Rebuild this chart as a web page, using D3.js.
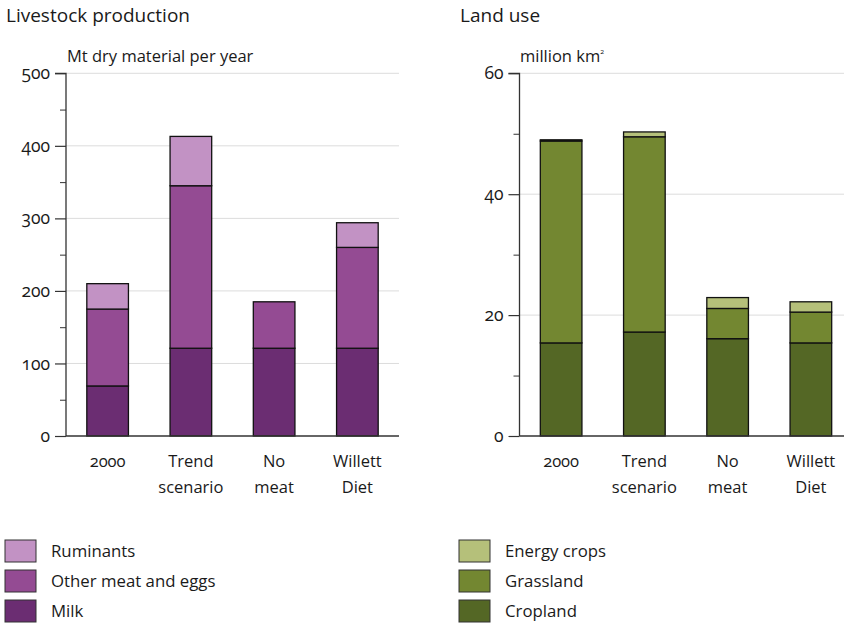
<!DOCTYPE html>
<html>
<head>
<meta charset="utf-8">
<script src="https://cdn.jsdelivr.net/npm/d3@7"></script>
<style>
  body { margin: 0; background: #fff; }
  svg { display: block; }
  text { font-family: "Open Sans", Lato, sans-serif; fill: #1a1a1a; font-variant-numeric: oldstyle-nums; font-feature-settings: "onum" 1; }
</style>
</head>
<body>
<svg id="chart" width="844" height="623"></svg>
<script>
// ---- Data ----
const categories = [["2000"], ["Trend", "scenario"], ["No", "meat"], ["Willett", "Diet"]];
const catKeys = ["2000", "Trend scenario", "No meat", "Willett Diet"];

// Livestock production (Mt dry material per year)
const livestockSeries = ["Milk", "Other meat and eggs", "Ruminants"];
const milk = [69, 121, 121, 121];
const otherMeat = [106, 224, 64, 139];
const ruminants = [35, 68, 0, 34];
const livestockColors = ["#6b2d72", "#944b93", "#c292c4"];
const livestockTicks = [0, 100, 200, 300, 400, 500];

// Land use (million km2)
const landSeries = ["Cropland", "Grassland", "Energy crops"];
const cropland = [15.4, 17.2, 16.1, 15.4];
const grassland = [33.4, 32.3, 5.0, 5.1];
const energyCrops = [0.2, 0.8, 1.8, 1.7];
const landColors = ["#546725", "#738731", "#b5c07a"];
const landTicks = [0, 20, 40, 60];

const svg = d3.select("#chart");

function panel(opts) {
  const g = svg.append("g");
  const x = d3.scaleBand().domain(catKeys).range([opts.x0, opts.x0 + 333]).padding(0.5).paddingOuter(0.25);
  const y = d3.scaleLinear().domain([0, opts.max]).range([436, 73.3]);

  // title
  g.append("text").attr("x", opts.titleX).attr("y", 22)
    .style("font-size", "19px").text(opts.title);
  // unit label
  const ut = g.append("text").attr("x", opts.unitX).attr("y", 62)
    .style("font-size", "16.5px");
  ut.text(opts.unit);
  if (opts.sup) ut.append("tspan").attr("dy", -8).style("font-size", "7px").text(opts.sup);

  // gridlines
  g.append("g").selectAll("line").data(opts.ticks.filter(d => d > 0)).join("line")
    .attr("x1", opts.x0).attr("x2", Math.min(opts.x0 + 333, 844))
    .attr("y1", d => y(d)).attr("y2", d => y(d))
    .attr("stroke", "#dcdcdc").attr("stroke-width", 1);

  // minor ticks
  const minor = d3.axisLeft(y).tickValues(opts.minor).tickSize(6).tickFormat("");
  const mg = g.append("g").attr("transform", `translate(${opts.x0},0)`).call(minor);
  mg.select(".domain").remove();
  mg.selectAll("line").attr("stroke", "#333");

  // major axis
  const ax = d3.axisLeft(y).tickValues(opts.ticks).tickSize(11).tickPadding(5).tickFormat(d3.format("d"));
  const ag = g.append("g").attr("transform", `translate(${opts.x0},0)`).call(ax);
  ag.select(".domain").attr("stroke", "#333").attr("stroke-width", 1.3).attr("d", `M-11,${y(opts.max)}H0V${y(0)}`);
  ag.selectAll("line").attr("stroke", "#333").attr("stroke-width", 1.2);
  ag.selectAll("text").style("font-size", "17.5px").attr("fill", "#1a1a1a")
    .style("font-family", "'Open Sans', Lato, sans-serif");

  // stacked bars
  const rows = catKeys.map((c, i) => {
    const r = { cat: c };
    opts.series.forEach((s, k) => r[s] = opts.values[k][i]);
    return r;
  });
  const stack = d3.stack().keys(opts.series)(rows);
  stack.forEach((layer, k) => {
    g.append("g").selectAll("rect").data(layer).join("rect")
      .attr("x", d => x(d.data.cat))
      .attr("width", x.bandwidth())
      .attr("y", d => y(d[1]))
      .attr("height", d => Math.max(0, y(d[0]) - y(d[1])))
      .attr("fill", opts.colors[k])
      .attr("stroke", d => (d[1] - d[0]) > 0 ? "#111" : "none")
      .attr("stroke-width", 1.3);
  });

  // x axis baseline
  g.append("line").attr("x1", opts.x0).attr("x2", Math.min(opts.x0 + 333, 844))
    .attr("y1", y(0)).attr("y2", y(0)).attr("stroke", "#333").attr("stroke-width", 1.3);

  // x labels
  categories.forEach((lines, i) => {
    const t = g.append("text").attr("text-anchor", "middle")
      .attr("x", x(catKeys[i]) + x.bandwidth() / 2).attr("y", 467)
      .style("font-size", "16.5px");
    lines.forEach((ln, j) => t.append("tspan").attr("x", x(catKeys[i]) + x.bandwidth() / 2)
      .attr("dy", j === 0 ? 0 : 26).text(ln));
  });

  // legend (top to bottom reversed order)
  const legendItems = opts.series.map((s, k) => ({ s, c: opts.colors[k] })).reverse();
  legendItems.forEach((d, i) => {
    g.append("rect").attr("x", opts.legX).attr("y", 540 + i * 30).attr("width", 31).attr("height", 22)
      .attr("fill", d.c).attr("stroke", "#333").attr("stroke-width", 1);
    g.append("text").attr("x", opts.legX + 46).attr("y", 557 + i * 30)
      .style("font-size", "16.8px").text(d.s);
  });
}

panel({
  x0: 66, max: 500, ticks: livestockTicks, minor: [50, 150, 250, 350, 450],
  title: "Livestock production", titleX: 6, unit: "Mt dry material per year", unitX: 67,
  series: livestockSeries, values: [milk, otherMeat, ruminants], colors: livestockColors, legX: 5
});
panel({
  x0: 519.5, max: 60, ticks: landTicks, minor: [10, 30, 50],
  title: "Land use", titleX: 460, unit: "million km", sup: "2", unitX: 520,
  series: landSeries, values: [cropland, grassland, energyCrops], colors: landColors, legX: 459
});
</script>
</body>
</html>
